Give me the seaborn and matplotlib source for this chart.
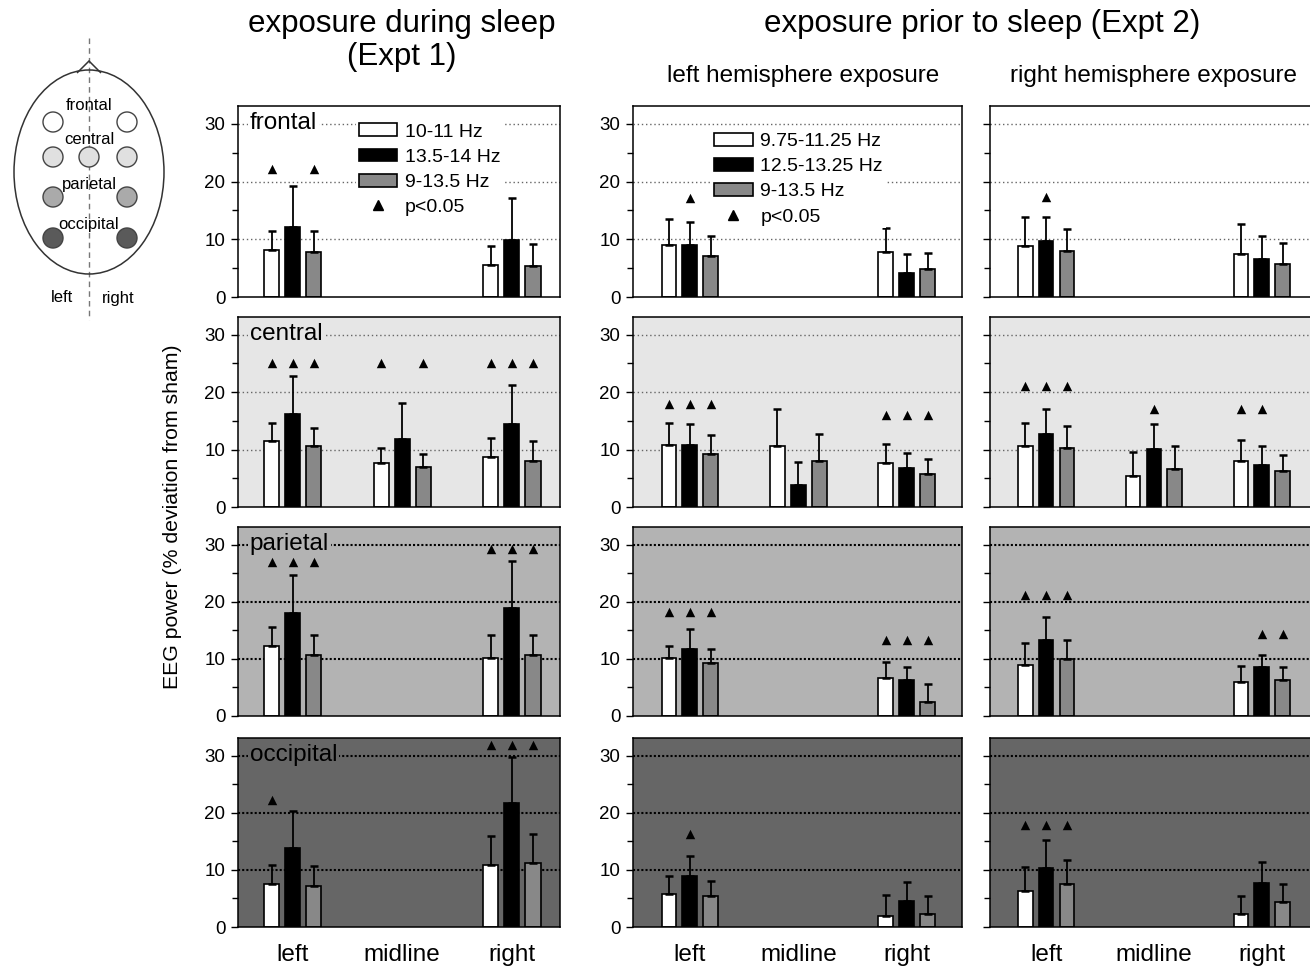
import matplotlib
matplotlib.use("Agg")
import matplotlib.pyplot as plt
import pandas as pd
import seaborn as sns
from matplotlib.patches import Patch, Ellipse, Circle, Polygon
from matplotlib.lines import Line2D
from matplotlib.ticker import MultipleLocator

sites = ["left", "midline", "right"]
regions = ["frontal", "central", "parietal", "occipital"]
bands_expt1 = ["10-11 Hz", "13.5-14 Hz", "9-13.5 Hz"]
bands_expt2 = ["9.75-11.25 Hz", "12.5-13.25 Hz", "9-13.5 Hz"]

# values are region -> site (left, midline, right) -> band; None = no electrode
# Expt 1, exposure during sleep
sleep_mean = [
    [[8.1, 12.2, 7.85], None, [5.5, 9.8, 5.4]],
    [[11.5, 16.2, 10.7], [7.7, 11.9, 7.0], [8.7, 14.4, 8.1]],
    [[12.3, 18.0, 10.6], None, [10.2, 18.9, 10.6]],
    [[7.5, 13.8, 7.1], None, [10.9, 21.8, 11.2]],
]
sleep_sem = [
    [[3.4, 7.1, 3.6], None, [3.3, 7.3, 3.7]],
    [[3.2, 6.6, 3.0], [2.6, 6.2, 2.2], [3.4, 6.8, 3.4]],
    [[3.2, 6.7, 3.6], None, [4.0, 8.3, 3.6]],
    [[3.4, 6.5, 3.5], None, [5.0, 8.0, 5.0]],
]
# height of the p<0.05 triangle, None = not significant
sleep_sig = [
    [[22.1, None, 22.1], None, None],
    [[25.0, 25.0, 25.0], [25.0, None, 25.0], [25.0, 25.0, 25.0]],
    [[27.0, 27.0, 27.0], None, [29.2, 29.2, 29.2]],
    [[22.2, None, None], None, [31.9, 31.9, 31.9]],
]

# Expt 2, left hemisphere exposure
lhemi_mean = [
    [[9.0, 9.0, 7.1], None, [7.8, 4.2, 4.9]],
    [[10.75, 10.75, 9.3], [10.6, 3.9, 8.1], [7.7, 6.8, 5.8]],
    [[10.1, 11.8, 9.35], None, [6.7, 6.25, 2.45]],
    [[5.75, 8.9, 5.35], None, [1.9, 4.5, 2.2]],
]
lhemi_sem = [
    [[4.5, 4.0, 3.4], None, [4.1, 3.2, 2.7]],
    [[3.95, 3.75, 3.3], [6.4, 3.95, 4.7], [3.2, 2.6, 2.5]],
    [[2.2, 3.4, 2.45], None, [2.8, 2.4, 3.1]],
    [[3.15, 3.45, 2.75], None, [3.75, 3.3, 3.15]],
]
lhemi_sig = [
    [[None, 17.1, None], None, None],
    [[17.9, 17.9, 17.9], None, [16.0, 16.0, 16.0]],
    [[18.3, 18.3, 18.3], None, [13.3, 13.3, 13.3]],
    [[None, 16.35, None], None, None],
]

# Expt 2, right hemisphere exposure
rhemi_mean = [
    [[8.8, 9.65, 7.9], None, [7.5, 6.5, 5.8]],
    [[10.6, 12.7, 10.35], [5.35, 10.1, 6.7], [8.0, 7.4, 6.2]],
    [[8.9, 13.3, 9.9], None, [6.0, 8.5, 6.25]],
    [[6.35, 10.35, 7.5], None, [2.35, 7.65, 4.4]],
]
rhemi_sem = [
    [[5.1, 4.25, 3.8], None, [5.2, 4.0, 3.6]],
    [[4.1, 4.3, 3.75], [4.25, 4.3, 3.9], [3.6, 3.3, 2.9]],
    [[3.8, 4.1, 3.4], None, [2.7, 2.1, 2.25]],
    [[4.15, 4.95, 4.15], None, [3.15, 3.65, 3.1]],
]
rhemi_sig = [
    [[None, 17.3, None], None, None],
    [[21.0, 21.0, 21.0], [None, 17.1, None], [17.1, 17.1, None]],
    [[21.2, 21.2, 21.2], None, [None, 14.3, 14.3]],
    [[17.9, 17.9, 17.9], None, None],
]

bar_colors = ["white", "black", "#888888"]
row_bg = ["white", "#e6e6e6", "#b3b3b3", "#666666"]

sns.set_style("ticks")
plt.rcParams["font.family"] = ["Liberation Sans", "DejaVu Sans"]
plt.rcParams["text.color"] = "black"
plt.rcParams["axes.labelcolor"] = "black"
plt.rcParams["xtick.color"] = "black"
plt.rcParams["ytick.color"] = "black"

W, H = 1310, 966
fig = plt.figure(figsize=(W / 100, H / 100), dpi=100)

# pixel boxes of the panels
col_px = [(238, 560), (633, 962), (990, 1320)]
col_xlim = [(-0.50, 2.44), (-0.525, 2.51), (-0.52, 2.54)]
row_px = [(106, 297), (317, 507), (527, 716), (738, 927)]

columns = [
    (sleep_mean, sleep_sem, sleep_sig, bands_expt1),
    (lhemi_mean, lhemi_sem, lhemi_sig, bands_expt2),
    (rhemi_mean, rhemi_sem, rhemi_sig, bands_expt2),
]

group_w = 0.58
step = group_w / 3

for ci, (means, sems, sigs, bands) in enumerate(columns):
    for ri, region in enumerate(regions):
        x0, x1 = col_px[ci]
        y0, y1 = row_px[ri]
        ax = fig.add_axes([x0 / W, 1 - y1 / H, (x1 - x0) / W, (y1 - y0) / H])
        ax.set_facecolor(row_bg[ri])

        rows = []
        for si, site in enumerate(sites):
            if means[ri][si] is None:
                continue
            for bi, band in enumerate(bands):
                rows.append({"site": site, "band": band, "value": means[ri][si][bi]})
        df = pd.DataFrame(rows)

        sns.barplot(data=df, x="site", y="value", hue="band", order=sites,
                    hue_order=bands, palette=dict(zip(bands, bar_colors)),
                    width=group_w, gap=0.29, saturation=1, edgecolor="black",
                    linewidth=1.2, errorbar=None, legend=False, ax=ax, zorder=2)

        for si, site in enumerate(sites):
            if means[ri][si] is None:
                continue
            for bi in range(3):
                xc = si + (bi - 1) * step
                ax.errorbar(xc, means[ri][si][bi], yerr=[[0], [sems[ri][si][bi]]],
                            fmt="none", ecolor="black", elinewidth=1.3,
                            capsize=3.2, capthick=1.8, zorder=3)
            if sigs[ri][si] is not None:
                for bi in range(3):
                    if sigs[ri][si][bi] is not None:
                        ax.scatter(si + (bi - 1) * step, sigs[ri][si][bi], marker="^",
                                   s=46, color="black", zorder=4, linewidths=0)

        if ri < 2:
            gkw = dict(color="#666666", lw=1.0, ls=(0, (1, 2)))
        else:
            gkw = dict(color="black", lw=1.5, ls=(0, (1, 1)))
        for gy in (10, 20, 30):
            # in the Expt 2 frontal panel the top grid line runs over the legend box
            gz = 7 if (ci == 1 and ri == 0 and gy == 30) else 1
            ax.axhline(gy, zorder=gz, **gkw)

        ax.set_xlim(*col_xlim[ci])
        ax.set_ylim(0, 33.1)
        ax.set_xlabel("")
        ax.set_ylabel("")
        ax.yaxis.set_major_locator(MultipleLocator(10))
        ax.yaxis.set_minor_locator(MultipleLocator(5))
        ax.tick_params(axis="y", which="major", length=5, width=1, direction="out",
                       labelsize=13.5, pad=4, colors="black", labelleft=(ci < 2))
        ax.tick_params(axis="y", which="minor", length=4, width=1, direction="out")
        ax.tick_params(axis="x", length=0)
        for sp in ax.spines.values():
            sp.set_visible(True)
            sp.set_color("black")
            sp.set_linewidth(1.1)

        if ri == 3:
            ax.set_xticks(range(3))
            ax.set_xticklabels(sites, fontsize=17.5)
            ax.tick_params(axis="x", pad=12)
        else:
            ax.tick_params(axis="x", labelbottom=False)

        if ci == 0:
            ax.text(0.037, 0.91, region, transform=ax.transAxes, fontsize=17.5,
                    ha="left", va="center", zorder=5,
                    bbox=dict(facecolor=row_bg[ri], edgecolor="none", pad=1))

        if ri == 0 and ci < 2:
            handles = [Patch(facecolor=c, edgecolor="black", linewidth=1.2) for c in bar_colors]
            handles.append(Line2D([], [], marker="^", color="black", ls="none", markersize=6.5))
            anchor = (0.335, 0.975) if ci == 0 else (0.207, 0.925)
            leg = ax.legend(handles, bands + ["p<0.05"], loc="upper left",
                            bbox_to_anchor=anchor, fontsize=14, frameon=True,
                            facecolor="white", edgecolor="none", framealpha=1,
                            fancybox=False, borderpad=0.15, handlelength=2.0,
                            handleheight=0.65, handletextpad=0.4, labelspacing=0.4)
            leg.set_zorder(6)

# titles
fig.text(402 / W, 1 - 24 / H, "exposure during sleep", ha="center", va="center", fontsize=22.5)
fig.text(402 / W, 1 - 57 / H, "(Expt 1)", ha="center", va="center", fontsize=22.5)
fig.text(982 / W, 1 - 24 / H, "exposure prior to sleep (Expt 2)", ha="center", va="center", fontsize=22.5)
fig.text(803 / W, 1 - 76 / H, "left hemisphere exposure", ha="center", va="center", fontsize=17.5)
fig.text(1153 / W, 1 - 76 / H, "right hemisphere exposure", ha="center", va="center", fontsize=17.5)
fig.text(172 / W, 1 - 517 / H, "EEG power (% deviation from sham)", rotation=90,
         ha="center", va="center", fontsize=15.3)

# electrode map
hx = fig.add_axes([0, 1 - 330 / H, 170 / W, 330 / H])
hx.set_xlim(0, 170)
hx.set_ylim(330, 0)
hx.axis("off")
hx.plot([89, 89], [38, 320], color="#777777", lw=1, ls=(0, (4, 3)), zorder=1)
hx.add_patch(Ellipse((89, 172), 150, 204, facecolor="none", edgecolor="#333333", lw=1.1, zorder=2))
hx.add_patch(Polygon([(77, 73), (89, 61), (101, 73)], closed=False, fill=False,
                     edgecolor="#333333", lw=1.1, zorder=2))
electrodes = [
    ("frontal", 122, [53, 127], "white", 106),
    ("central", 157, [53, 89, 127], "#e0e0e0", 140),
    ("parietal", 197, [53, 127], "#aaaaaa", 184),
    ("occipital", 238, [53, 127], "#5a5a5a", 224),
]
for name, ey, xs, fc, ly in electrodes:
    for ex in xs:
        hx.add_patch(Circle((ex, ey), 10, facecolor=fc, edgecolor="#444444", lw=1, zorder=3))
    hx.text(89, ly, name, ha="center", va="center", fontsize=12, zorder=4)
hx.text(62, 298, "left", ha="center", va="center", fontsize=12)
hx.text(118, 298, "right", ha="center", va="center", fontsize=12)

fig.savefig("out.png", dpi=100)
